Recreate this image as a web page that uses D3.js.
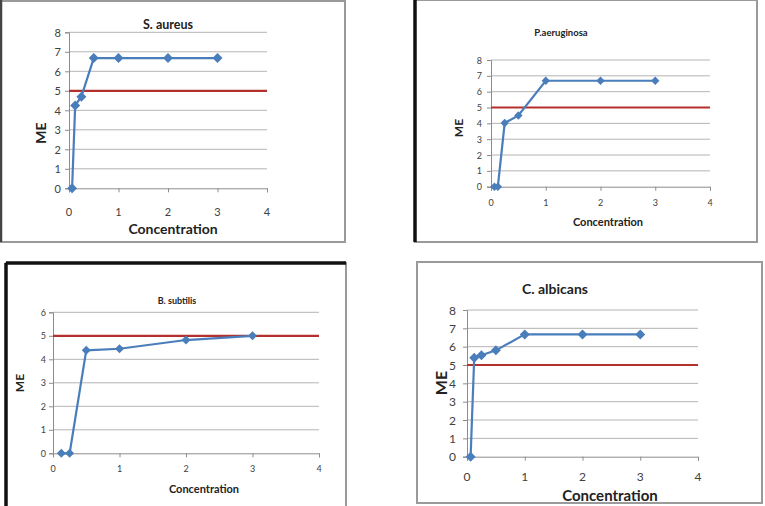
<!DOCTYPE html>
<html><head><meta charset="utf-8">
<script src="https://cdnjs.cloudflare.com/ajax/libs/d3/7.8.5/d3.min.js"></script>
<style>body{margin:0;background:#fff}svg{display:block}</style>
</head><body>
<svg id="c" width="765" height="506"></svg>
<script>
// ---- data ----
const xTicks = [0, 1, 2, 3, 4];
const threshold = 5;
const saConc = [0.0625, 0.125, 0.25, 0.5, 1, 2, 3];
const saME   = [0, 4.25, 4.7, 6.68, 6.68, 6.68, 6.68];
const paConc = [0.0625, 0.125, 0.25, 0.5, 1, 2, 3];
const paME   = [0, 0, 4.02, 4.5, 6.69, 6.69, 6.69];
const bsConc = [0.125, 0.25, 0.5, 1, 2, 3];
const bsME   = [0, 0, 4.38, 4.45, 4.82, 5.0];
const caConc = [0.0625, 0.125, 0.25, 0.5, 1, 2, 3];
const caME   = [0, 5.4, 5.53, 5.8, 6.67, 6.67, 6.67];
const titles = ["S. aureus", "P.aeruginosa", "B. subtilis", "C. albicans"];
const yMaxes = [8, 8, 6, 8];
const xLabel = "Concentration";
const yLabel = "ME";

// ---- layout ----
const panels = [
  {conc: saConc, me: saME, frame:[1,1,344,241], thick:[], x0:69, x1:267, yb:188.3, yt:32.3,
   title:[168,24,12.5], xl:[173,228,14], yl:[40,133,14], tick:11, xtY:211, ytX:61, mk:5},
  {conc: paConc, me: paME, frame:[415,0,342,242], thick:["left"], x0:491, x1:710, yb:186.7, yt:60,
   title:[561,32,9.5], xl:[608,221,11], yl:[458,128,12], tick:9, xtY:202, ytX:482, mk:4.2},
  {conc: bsConc, me: bsME, frame:[6,263,340,245], thick:["left","top"], x0:53, x1:319, yb:453.3, yt:312.3,
   title:[177,300,9], xl:[204,488,11], yl:[19,383,12], tick:9, xtY:468, ytX:46, mk:4.5},
  {conc: caConc, me: caME, frame:[417,262,345,241], thick:[], x0:467, x1:698, yb:456.7, yt:310,
   title:[555,288,14], xl:[610,494.5,15], yl:[440,383,16], tick:12, xtY:476, ytX:456, mk:5}
];

const svg = d3.select("#c");
const font = "Lato, 'Open Sans', sans-serif";
const blue = "#4a7ebb", red = "#b3302c";

panels.forEach((p, i) => {
  const g = svg.append("g");
  const [fx, fy, fw, fh] = p.frame;
  g.append("rect").attr("x", fx).attr("y", fy).attr("width", fw).attr("height", fh)
    .attr("fill", "#fff").attr("stroke", "#9a9a9a").attr("stroke-width", 2);
  if (p.thick.includes("left"))
    g.append("line").attr("x1", fx).attr("x2", fx).attr("y1", fy).attr("y2", fy + fh)
      .attr("stroke", "#111").attr("stroke-width", 3.5);
  if (p.thick.includes("top"))
    g.append("line").attr("x1", fx).attr("x2", fx + fw).attr("y1", fy).attr("y2", fy)
      .attr("stroke", "#111").attr("stroke-width", 3.5);
  if (i === 0)
    g.append("line").attr("x1", 1).attr("x2", 1).attr("y1", 0).attr("y2", 242)
      .attr("stroke", "#444").attr("stroke-width", 2.5);

  const x = d3.scaleLinear().domain([0, 4]).range([p.x0, p.x1]);
  const y = d3.scaleLinear().domain([0, yMaxes[i]]).range([p.yb, p.yt]);
  const yTicks = d3.range(0, yMaxes[i] + 1);

  // gridlines
  g.append("g").selectAll("line").data(yTicks.slice(1)).join("line")
    .attr("x1", p.x0).attr("x2", p.x1).attr("y1", d => y(d)).attr("y2", d => y(d))
    .attr("stroke", "#b4b4b4").attr("stroke-width", 1);

  // axes
  const ax = g.append("g").attr("transform", `translate(0,${p.yb})`)
    .call(d3.axisBottom(x).tickValues(xTicks).tickSize(4).tickFormat(""));
  ax.select(".domain").attr("stroke", "#8c8c8c");
  ax.selectAll(".tick line").attr("stroke", "#8c8c8c");
  const ay = g.append("g").attr("transform", `translate(${p.x0},0)`)
    .call(d3.axisLeft(y).tickValues(yTicks).tickSize(4).tickFormat(""));
  ay.select(".domain").attr("stroke", "#8c8c8c");
  ay.selectAll(".tick line").attr("stroke", "#8c8c8c");

  // tick labels
  g.append("g").selectAll("text").data(xTicks).join("text")
    .attr("x", d => x(d)).attr("y", p.xtY).attr("text-anchor", "middle")
    .attr("dominant-baseline", "central").attr("font-family", font)
    .attr("font-size", p.tick).attr("fill", "#404040").text(d => d);
  g.append("g").selectAll("text").data(yTicks).join("text")
    .attr("x", p.ytX).attr("y", d => y(d)).attr("text-anchor", "end")
    .attr("dominant-baseline", "central").attr("font-family", font)
    .attr("font-size", p.tick).attr("fill", "#404040").text(d => d);

  // threshold line
  g.append("line").attr("x1", x(0)).attr("x2", x(4)).attr("y1", y(threshold)).attr("y2", y(threshold))
    .attr("stroke", red).attr("stroke-width", 2.2);

  // data line
  const pts = p.conc.map((c, k) => [c, p.me[k]]);
  g.append("path").datum(pts)
    .attr("d", d3.line().x(d => x(d[0])).y(d => y(d[1])))
    .attr("fill", "none").attr("stroke", blue).attr("stroke-width", 2.2);
  g.append("g").selectAll("path").data(pts).join("path")
    .attr("transform", d => `translate(${x(d[0])},${y(d[1])})`)
    .attr("d", `M0,${-p.mk}L${p.mk},0L0,${p.mk}L${-p.mk},0Z`)
    .attr("fill", blue);

  // labels
  g.append("text").attr("x", p.title[0]).attr("y", p.title[1]).attr("text-anchor", "middle")
    .attr("dominant-baseline", "central").attr("font-family", font).attr("font-weight", "bold")
    .attr("font-size", p.title[2]).attr("fill", "#222").text(titles[i]);
  g.append("text").attr("x", p.xl[0]).attr("y", p.xl[1]).attr("text-anchor", "middle")
    .attr("dominant-baseline", "central").attr("font-family", font).attr("font-weight", "bold")
    .attr("font-size", p.xl[2]).attr("fill", "#222").text(xLabel);
  g.append("text").attr("transform", `translate(${p.yl[0]},${p.yl[1]}) rotate(-90)`)
    .attr("text-anchor", "middle").attr("dominant-baseline", "central")
    .attr("font-family", font).attr("font-weight", "bold")
    .attr("font-size", p.yl[2]).attr("fill", "#222").text(yLabel);
});
</script>
</body></html>
